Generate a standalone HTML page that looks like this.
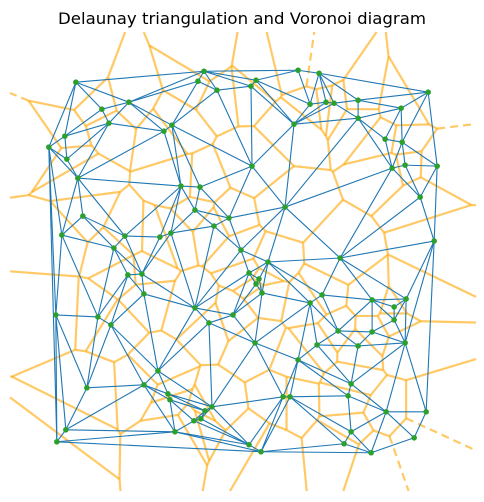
<!DOCTYPE html>
<html><head><meta charset="utf-8">
<style>html,body{margin:0;padding:0;background:#fff;width:484px;height:502px;overflow:hidden;}svg{display:block;overflow:hidden;}</style>
</head><body>
<svg id="chart" width="484" height="502" xmlns="http://www.w3.org/2000/svg">
<text x="242" y="24" text-anchor="middle" font-family="DejaVu Sans, Liberation Sans, sans-serif" font-size="16" textLength="368" lengthAdjust="spacingAndGlyphs" fill="#000">Delaunay triangulation and Voronoi diagram</text>
<g id="vor"></g>
<g id="tri"></g>
<g id="pts"></g>
</svg>
<script>
const xs = [76,204,198,217,129,102,109,164,172,65,49,67,78,181,200,83,195,229,214,62,125,160,171,114,241,
298,319,256,251,310,326,334,358,428,401,358,294,385,402,252,392,405,437,420,285,434,340,268,
128,142,144,56,98,111,195,209,233,158,87,144,168,170,212,205,194,201,66,57,175,249,
249,259,256,262,322,310,372,406,394,394,338,372,405,317,358,255,298,351,348,283,290,386,426,351,344,414,261,371];
const ys = [82,71,81,90,102,109,123,131,125,136,147,159,178,186,187,216,210,218,226,235,236,237,233,248,250,
70,73,80,86,104,102,103,100,92,108,118,124,139,142,166,168,165,166,197,207,241,258,262,
275,274,294,315,317,325,308,323,315,371,388,385,394,400,407,411,421,419,430,442,432,445,
273,279,284,293,295,303,300,299,307,320,331,332,343,345,346,343,360,384,396,397,397,412,412,432,444,438,452,453];

const X0=49,X1=437,Y0=70,Y1=453;
const mx=(X1-X0)*0.1, my=(Y1-Y0)*0.1;
const xScale = v => 10 + (v-(X0-mx))/((X1-X0)+2*mx)*466;
const yScale = v => 32 + (v-(Y0-my))/((Y1-Y0)+2*my)*459;
const NS='http://www.w3.org/2000/svg';
const P = xs.map((x,i)=>[x,ys[i]]);
const n = P.length;

function circ(a,b,c){
  const ax=a[0],ay=a[1],bx=b[0],by=b[1],cx=c[0],cy=c[1];
  const d=2*(ax*(by-cy)+bx*(cy-ay)+cx*(ay-by));
  const ux=((ax*ax+ay*ay)*(by-cy)+(bx*bx+by*by)*(cy-ay)+(cx*cx+cy*cy)*(ay-by))/d;
  const uy=((ax*ax+ay*ay)*(cx-bx)+(bx*bx+by*by)*(ax-cx)+(cx*cx+cy*cy)*(bx-ax))/d;
  return [ux,uy,(ax-ux)**2+(ay-uy)**2];
}
const all = P.concat([[-1e5,-1e5],[1e5,-1e5],[0,1e5]]);
let tris=[[n,n+1,n+2]];
tris[0].c=circ(all[n],all[n+1],all[n+2]);
for(let i=0;i<n;i++){
  const p=all[i]; const bad=[],keep=[];
  for(const t of tris){const c=t.c; ((p[0]-c[0])**2+(p[1]-c[1])**2<c[2]?bad:keep).push(t);}
  const ec={};
  for(const t of bad){for(let k=0;k<3;k++){const a=t[k],b=t[(k+1)%3];const key=a<b?a+'_'+b:b+'_'+a;ec[key]=(ec[key]||0)+1;}}
  tris=keep;
  for(const t of bad){for(let k=0;k<3;k++){const a=t[k],b=t[(k+1)%3];const key=a<b?a+'_'+b:b+'_'+a;
    if(ec[key]===1){const nt=[a,b,i];nt.c=circ(all[a],all[b],all[i]);tris.push(nt);}}}
}
tris=tris.filter(t=>t[0]<n&&t[1]<n&&t[2]<n);
const edges={};
tris.forEach((t,ti)=>{for(let k=0;k<3;k++){const a=t[k],b=t[(k+1)%3];const key=a<b?a+'_'+b:b+'_'+a;(edges[key]=edges[key]||[]).push(ti);}});

// Liang-Barsky clip in pixel space to axes box
const BX0=10,BX1=476,BY0=32,BY1=491;
function clip(x1,y1,x2,y2){
  let t0=0,t1=1;const dx=x2-x1,dy=y2-y1;
  const p=[-dx,dx,-dy,dy],q=[x1-BX0,BX1-x1,y1-BY0,BY1-y1];
  for(let i=0;i<4;i++){
    if(p[i]===0){if(q[i]<0)return null;}
    else{const r=q[i]/p[i];if(p[i]<0){if(r>t1)return null;if(r>t0)t0=r;}else{if(r<t0)return null;if(r<t1)t1=r;}}
  }
  return [x1+t0*dx,y1+t0*dy,x1+t1*dx,y1+t1*dy];
}
function line(x1,y1,x2,y2,stroke,w,op,dash){
  const c=clip(xScale(x1),yScale(y1),xScale(x2),yScale(y2));
  if(!c)return null;
  const l=document.createElementNS(NS,'line');
  l.setAttribute('x1',c[0]);l.setAttribute('y1',c[1]);
  l.setAttribute('x2',c[2]);l.setAttribute('y2',c[3]);
  l.setAttribute('stroke',stroke);l.setAttribute('stroke-width',w);
  if(op<1)l.setAttribute('stroke-opacity',op);
  if(dash)l.setAttribute('stroke-dasharray',dash);
  return l;
}
const gv=document.getElementById('vor'),gt=document.getElementById('tri'),gp=document.getElementById('pts');
const cxm=xs.reduce((a,b)=>a+b,0)/n, cym=ys.reduce((a,b)=>a+b,0)/n;
const ptp=Math.max(X1-X0,Y1-Y0);
for(const key in edges){
  const [a,b]=key.split('_').map(Number); const ts=edges[key];
  const l=line(xs[a],ys[a],xs[b],ys[b],'#1f77b4',1.1,1);
  if(l){
    
    
    gt.appendChild(l);
  }
  let v;
  if(ts.length===2){
    const c1=tris[ts[0]].c,c2=tris[ts[1]].c;
    v=line(c1[0],c1[1],c2[0],c2[1],'#FFA500',2.2,0.6);
  } else {
    const c=tris[ts[0]].c;
    let tx=xs[b]-xs[a],ty=ys[b]-ys[a];const L=Math.hypot(tx,ty);tx/=L;ty/=L;
    let nx=-ty,ny=tx;
    const midx=(xs[a]+xs[b])/2,midy=(ys[a]+ys[b])/2;
    const s=Math.sign((midx-cxm)*nx+(midy-cym)*ny)||1;
    v=line(c[0],c[1],c[0]+s*nx*ptp,c[1]+s*ny*ptp,'#FFA500',2.2,0.6,'8,5');
  }
  if(v){
    
    
    gv.appendChild(v);
  }
}
for(let i=0;i<n;i++){
  const c=document.createElementNS(NS,'circle');
  c.setAttribute('cx',xScale(xs[i]));c.setAttribute('cy',yScale(ys[i]));c.setAttribute('r',2.8);
  c.setAttribute('fill','#2ca02c');
  
  
  gp.appendChild(c);
}
</script>
</body></html>
